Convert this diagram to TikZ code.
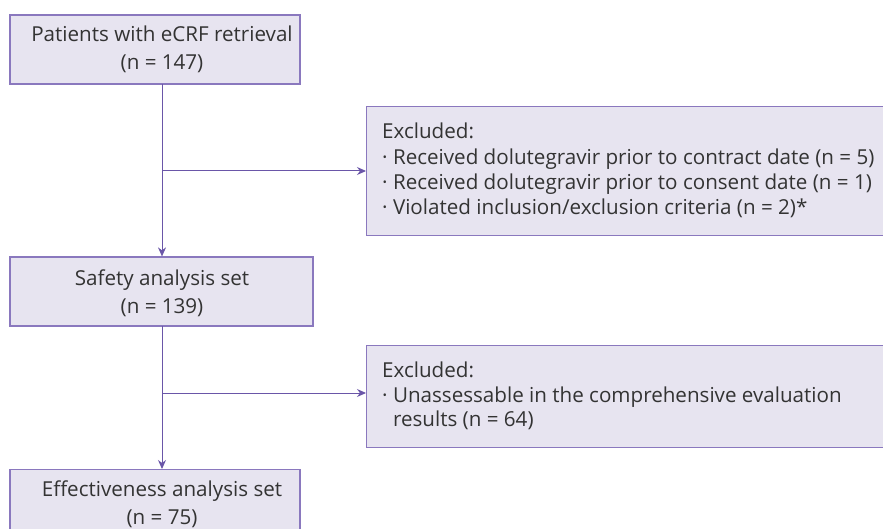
\documentclass[tikz,border=0pt]{standalone}
\usepackage{fontspec}
\setmainfont{Open Sans}
\usetikzlibrary{arrows.meta}
\definecolor{boxfill}{HTML}{E7E4F0}
\definecolor{boxline}{HTML}{8A78BE}
\definecolor{arrowc}{HTML}{6A56A8}
\definecolor{txt}{HTML}{333333}
\begin{document}
\begin{tikzpicture}[x=1pt,y=-1pt,
  box/.style={draw=boxline,fill=boxfill,line width=1.2pt,inner sep=0pt},
  ctext/.style={text=txt,align=center,font=\fontsize{20.6}{28}\selectfont,inner sep=0pt},
  ltext/.style={text=txt,align=left,font=\fontsize{20.6}{25.3}\selectfont,inner sep=0pt,anchor=north west},
  conn/.style={draw=arrowc,line width=1pt,-{Stealth[length=9pt,width=8pt]}}]
\useasboundingbox (0,0) rectangle (883,529);
\clip (0,0) rectangle (883,529);
% main boxes
\node[box,minimum width=290pt,minimum height=69pt] (b1) at (155,49.5) {};
\node[ctext] (t1) at (162,49.5) {Patients with eCRF retrieval\\(n = 147)};
\node[box,minimum width=303pt,minimum height=69pt] (b2) at (161.5,291.5) {};
\node[ctext] (t2) at (162,293) {Safety analysis set\\(n = 139)};
\node[box,minimum width=290pt,minimum height=69pt,anchor=north] (b3) at (155,469) {};
\node[ctext] (t3) at (162,504) {Effectiveness analysis set\\(n = 75)};
% exclusion boxes
\node[box,minimum width=534pt,minimum height=129pt,anchor=north west] (e1) at (366,106) {};
\node[ltext] (x1) at (382,123) {Excluded:\\
\textperiodcentered\ Received dolutegravir prior to contract date (n = 5)\\
\textperiodcentered\ Received dolutegravir prior to consent date (n = 1)\\
\textperiodcentered\ Violated inclusion/exclusion criteria (n = 2)*};
\node[box,minimum width=534pt,minimum height=102pt,anchor=north west] (e2) at (366,345) {};
\node[ltext,font=\fontsize{20.6}{24.3}\selectfont] (x2) at (382,362) {Excluded:\\
\textperiodcentered\ Unassessable in the comprehensive evaluation\\
\phantom{\textperiodcentered\ }results (n = 64)};
% connectors
\coordinate (s1) at (162,84);
\coordinate (j1) at (162,171);
\coordinate (s2) at (162,326);
\coordinate (j2) at (162,393);
\draw[conn] (s1) -- (s1 |- b2.north);
\draw[conn] (s2) -- (s2 |- b3.north);
\draw[conn] (j1) -- (j1 -| e1.west);
\draw[conn] (j2) -- (j2 -| e2.west);
\end{tikzpicture}
\end{document}
